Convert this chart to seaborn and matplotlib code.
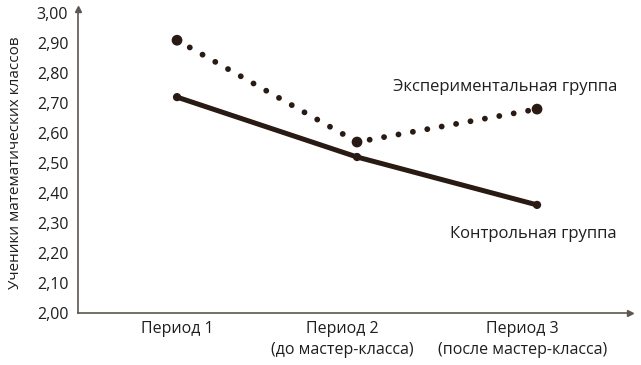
import numpy as np
import pandas as pd
import matplotlib
matplotlib.use("Agg")
import matplotlib.pyplot as plt
import seaborn as sns

periods = ["Период 1", "Период 2\n(до мастер-класса)", "Период 3\n(после мастер-класса)"]
period_x = [0, 1, 2]
experimental = [2.91, 2.57, 2.68]
control = [2.72, 2.52, 2.36]
yticks = [2.0, 2.1, 2.2, 2.3, 2.4, 2.5, 2.6, 2.7, 2.8, 2.9, 3.0]

sns.set_style("white")
plt.rcParams["font.family"] = ["Open Sans", "DejaVu Sans"]

ink = "#2a1a14"
axis_c = "#5e5650"
txt = "#1e1e1e"
fs = 11.5

df = pd.DataFrame({"x": period_x * 2,
                   "y": experimental + control,
                   "group": ["exp"] * 3 + ["ctrl"] * 3})

fig = plt.figure(figsize=(6.41, 3.65), dpi=100)
ax = fig.add_axes([0.1217, 0.1433, 0.983 - 0.1217, 0.9636 - 0.1433])

exp = df[df.group == "exp"]
ctrl = df[df.group == "ctrl"]
sns.lineplot(data=exp, x="x", y="y", ax=ax, color=ink, lw=4.2)
dotted = ax.lines[-1]
dotted.set_linestyle((0, (0.01, 2.5)))
dotted.set_dash_capstyle("round")
sns.scatterplot(data=exp, x="x", y="y", ax=ax, color=ink, s=60, edgecolor="none", zorder=3)
sns.lineplot(data=ctrl, x="x", y="y", ax=ax, color=ink, lw=3.6)
ax.lines[-1].set_solid_capstyle("round")
sns.scatterplot(data=ctrl, x="x", y="y", ax=ax, color=ink, s=35, edgecolor="none", zorder=3)

ax.set_xlim(-0.55, 2.517)
ax.set_ylim(2.0, 3.0)
ax.set_yticks(yticks)
ax.set_yticklabels([f"{v:.2f}".replace(".", ",") for v in yticks], fontsize=fs, color=txt)
ax.set_xticks([0, 0.92, 1.92])
ax.set_xticklabels(periods, fontsize=fs, color=txt, linespacing=1.45)
ax.set_xticks([0.45, 1.44], minor=True)
ax.tick_params(axis="x", which="major", length=0, pad=6)
ax.tick_params(axis="x", which="minor", length=5, color=axis_c, width=1, direction="out")
ax.tick_params(axis="y", length=4, color=axis_c, width=1, direction="out", pad=3)
ax.set_xlabel("")
ax.set_ylabel("Ученики математических классов", fontsize=11, color=txt, labelpad=10)

for s in ["top", "right"]:
    ax.spines[s].set_visible(False)
for s in ["left", "bottom"]:
    ax.spines[s].set_color(axis_c)
    ax.spines[s].set_linewidth(1.2)
ax.plot([0], [1.015], marker="^", color=axis_c, ms=5, transform=ax.transAxes, clip_on=False)
ax.plot([1.0], [0], marker=">", color=axis_c, ms=5, transform=ax.transAxes, clip_on=False)

ax.text(2.444, 2.754, "Экспериментальная группа", fontsize=12, color=txt, ha="right", va="center")
ax.text(2.444, 2.263, "Контрольная группа", fontsize=12, color=txt, ha="right", va="center")

fig.savefig("out.png", dpi=100)
